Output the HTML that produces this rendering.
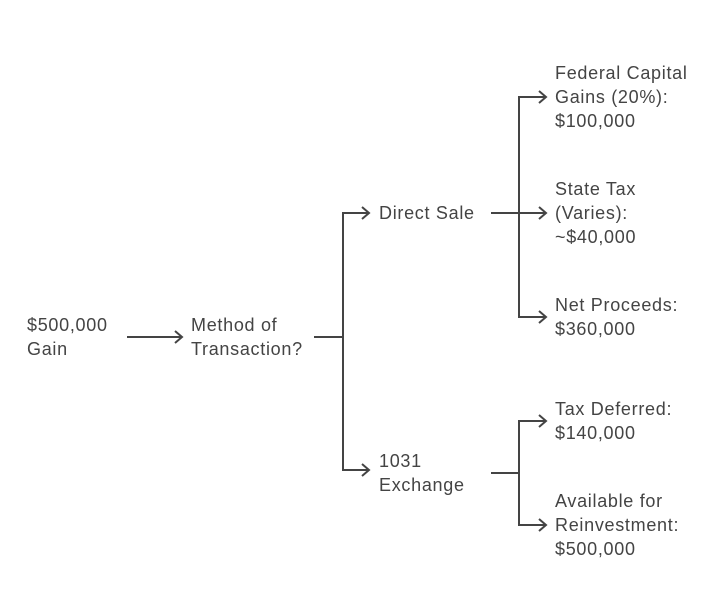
<!DOCTYPE html>
<html><head><style>html,body{margin:0;padding:0;background:#fff;}svg{display:block}</style></head>
<body>
<svg width="722" height="610" xmlns="http://www.w3.org/2000/svg">
<g stroke="#444" stroke-width="2" fill="none">
<path d="M127 337H181"/><path d="M175 331L182 337L175 343"/>
<path d="M314 337H343"/>
<path d="M368 213H343V470H368"/>
<path d="M362 207L369 213L362 219"/><path d="M362 464L369 470L362 476"/>
<path d="M491 213H545"/>
<path d="M545 97H519V317H545"/>
<path d="M539 91L546 97L539 103"/><path d="M539 207L546 213L539 219"/><path d="M539 311L546 317L539 323"/>
<path d="M491 473H519"/>
<path d="M545 421H519V525H545"/>
<path d="M539 415L546 421L539 427"/><path d="M539 519L546 525L539 531"/>
</g>
<g font-family="Liberation Sans, sans-serif" font-size="18" fill="#444" letter-spacing="0.7">
<text x="27" y="331">$500,000</text><text x="27" y="355">Gain</text>
<text x="191" y="331">Method of</text><text x="191" y="355">Transaction?</text>
<text x="379" y="219">Direct Sale</text>
<text x="379" y="467">1031</text><text x="379" y="491">Exchange</text>
<text x="555" y="79">Federal Capital</text><text x="555" y="103">Gains (20%):</text><text x="555" y="127">$100,000</text>
<text x="555" y="195">State Tax</text><text x="555" y="219">(Varies):</text><text x="555" y="243">~$40,000</text>
<text x="555" y="311">Net Proceeds:</text><text x="555" y="335">$360,000</text>
<text x="555" y="415">Tax Deferred:</text><text x="555" y="439">$140,000</text>
<text x="555" y="507">Available for</text><text x="555" y="531">Reinvestment:</text><text x="555" y="555">$500,000</text>
</g>
</svg>
</body></html>
